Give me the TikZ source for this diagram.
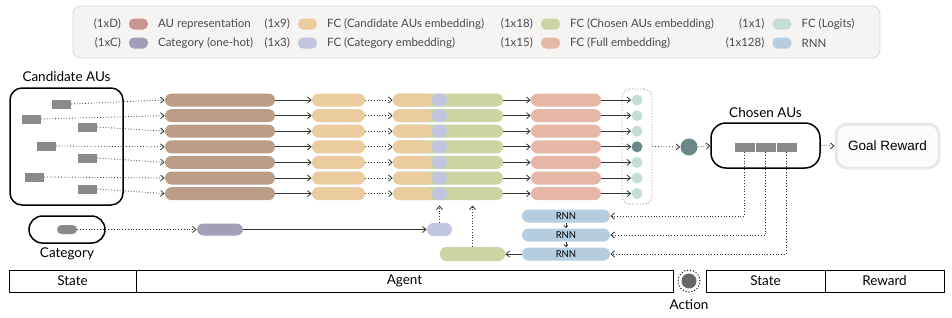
\documentclass[tikz,border=0pt]{standalone}
\usepackage{fontspec}
\setmainfont{Lato}
\newfontfamily\arialfont{Liberation Sans}
\usetikzlibrary{arrows.meta, positioning, calc}
\definecolor{aubrown}{HTML}{BC9D87}
\definecolor{aulegend}{HTML}{C8968E}
\definecolor{onehot}{HTML}{A39DB5}
\definecolor{fcyel}{HTML}{EACC9F}
\definecolor{catemb}{HTML}{C2C5DF}
\definecolor{chgreen}{HTML}{CBD5A4}
\definecolor{fullpink}{HTML}{E6B6A6}
\definecolor{logit}{HTML}{C6DDD6}
\definecolor{rnnblue}{HTML}{B5CDE0}
\definecolor{actteal}{HTML}{6A8888}
\definecolor{augray}{HTML}{8A8A8A}
\definecolor{actgray}{HTML}{666666}
\definecolor{legbg}{HTML}{F6F4F2}
\definecolor{legborder}{HTML}{DADADA}
\definecolor{legtext}{HTML}{4A4A4A}
\definecolor{arrowdk}{HTML}{333333}

\begin{document}
\begin{tikzpicture}[x=1pt, y=-1pt, >={Straight Barb[length=3.5pt, width=6pt]}, line width=0.8pt,
  pill/.style={rounded corners=6.5pt, minimum height=13pt, inner sep=0pt},
  aurect/.style={fill=augray, draw=white, line width=0.4pt, minimum width=20pt, minimum height=10pt, inner sep=0pt},
  lsw/.style={fill=#1, rounded corners=5pt, minimum width=19pt, minimum height=11pt, inner sep=0pt},
  ltxt/.style={text=legtext, font=\fontsize{11.5}{13}\selectfont},
  lbl/.style={font=\fontsize{13.5}{15}\selectfont},
  cell/.style={draw, line width=1pt, minimum height=22pt, inner sep=0pt, font=\fontsize{13.5}{15}\selectfont},
  conn/.style={draw=arrowdk, ->},
  dconn/.style={draw=arrowdk, ->, dotted}]

\useasboundingbox (0,0) rectangle (952,317);

% --- Legend ---
\node[fill=legbg, draw=legborder, rounded corners=8pt, minimum width=807pt, minimum height=52pt] (legend) at (476.5,32) {};
\foreach \sz/\col/\txt/\lx/\ly [count=\k] in {
  {(1xD)}/aulegend/{AU representation}/138.5/24,
  {(1xC)}/onehot/{Category (one-hot)}/138.5/43,
  {(1x9)}/fcyel/{FC (Candidate AUs embedding)}/307.5/24,
  {(1x3)}/catemb/{FC (Category embedding)}/307.5/43,
  {(1x18)}/chgreen/{FC (Chosen AUs embedding)}/550.5/24,
  {(1x15)}/fullpink/{FC (Full embedding)}/550.5/43,
  {(1x1)}/logit/{FC (Logits)}/782/24,
  {(1x128)}/rnnblue/{RNN}/782/43} {
  \node[lsw=\col] (sw\k) at (\lx,\ly) {};
  \node[ltxt, left=4pt of sw\k] (sz\k) {\sz};
  \node[ltxt, right=6pt of sw\k] (lt\k) {\txt};
}

% --- Candidate AUs (state) ---
\node[draw, line width=1.5pt, rounded corners=12pt, minimum width=113pt, minimum height=117pt] (cand) at (66.5,146.5) {};
\node[lbl, above=2pt of cand] (candlbl) {Candidate AUs};

% --- Seven rows of the agent ---
\foreach \i/\cx/\cy in {1/61/104, 2/31/119, 3/87/127, 4/46/146, 5/87/158, 6/34/177, 7/87/189} {
  \pgfmathsetmacro\ry{100+15.6*(\i-1)}
  \def\lc{logit}
  \ifnum\i=4 \def\lc{actteal}\fi
  \node[aurect] (cu\i) at (\cx,\cy) {};
  \node[pill, fill=aubrown, minimum width=110pt] (au\i) at (220,\ry) {};
  \node[pill, fill=fcyel, minimum width=53pt] (fc\i) at (338.5,\ry) {};
  \node[pill, fill=chgreen, minimum width=110pt,
    path picture={
      \fill[fcyel] (path picture bounding box.north west) rectangle ([xshift=39pt]path picture bounding box.south west);
      \fill[catemb] ([xshift=39pt]path picture bounding box.north west) rectangle ([xshift=54pt]path picture bounding box.south west);
    }] (cc\i) at (448,\ry) {};
  \node[pill, fill=fullpink, minimum width=70pt] (fe\i) at (566,\ry) {};
  \node[circle, fill=\lc, minimum size=11pt, inner sep=0pt] (lg\i) at (637,\ry) {};
  \draw[dconn] (cu\i.east) -- (au\i.west);
  \draw[conn] (au\i.east) -- (fc\i.west);
  \draw[dconn] (fc\i.east) -- (cc\i.west);
  \draw[conn] (cc\i.east) -- (fe\i.west);
  \draw[conn] (fe\i.east) -- (lg\i.west);
}

% Logits box and chosen action
\node[draw=gray, dotted, rounded corners=8pt, minimum width=30pt, minimum height=115pt] (lbox) at (637,146.5) {};
\node[circle, fill=actteal, minimum size=17pt, inner sep=0pt] (act) at (689,147) {};
\draw[dconn] (lbox.east) -- (act.west);

% --- Chosen AUs and reward ---
\node[draw, line width=1.5pt, rounded corners=15pt, minimum width=109pt, minimum height=45pt] (chosen) at (765.5,145.5) {};
\node[lbl, above=1pt of chosen] (chosenlbl) {Chosen AUs};
\node[aurect, minimum width=21pt] (ch1) at (744.5,147) {};
\node[aurect, minimum width=21pt] (ch2) at (765.5,147) {};
\node[aurect, minimum width=21pt] (ch3) at (786.5,147) {};
\node[draw=gray!18, fill=gray!3, line width=3pt, rounded corners=11pt, minimum width=103pt, minimum height=44pt,
  font=\arialfont\fontsize{13.5}{15}\selectfont] (goal) at (887.5,146) {Goal Reward};
\draw[dconn] (act.east) -- (chosen.west);
\draw[dconn] (chosen.east) -- (goal.west);

% --- Category input ---
\node[draw, line width=1.5pt, rounded corners=13.5pt, minimum width=76pt, minimum height=27pt] (catbox) at (67,229.5) {};
\node[lbl, below=0pt of catbox] (catlbl) {Category};
\node[fill=augray, rounded corners=4.5pt, minimum width=20pt, minimum height=9pt, inner sep=0pt] (cgray) at (67,229.5) {};
\node[pill, fill=onehot, minimum width=46pt, minimum height=12pt] (ohot) at (220,229.5) {};
\node[pill, fill=catemb, minimum width=25pt] (cemb) at (439.5,229.5) {};
\draw[dconn] (cgray.east) -- (ohot.west);
\draw[conn] (ohot.east) -- (cemb.west);
\draw[dconn] (cemb.north) -- ([yshift=-5pt]cc7.south -| cemb.north);

% --- RNN over chosen AUs ---
\foreach \j/\ry in {1/216, 2/235, 3/254} {
  \node[pill, fill=rnnblue, minimum width=88pt, font=\fontsize{9.5}{10}\selectfont] (rnn\j) at (566,\ry) {RNN};
  \draw[dconn] (ch\j.south) |- (rnn\j.east);
}
\draw[conn, >={Straight Barb[length=2pt, width=4pt]}] (rnn1.south) -- (rnn2.north);
\draw[conn, >={Straight Barb[length=2pt, width=4pt]}] (rnn2.south) -- (rnn3.north);
\node[pill, fill=chgreen, minimum width=65pt, minimum height=14pt] (gb) at (472.5,254) {};
\draw[conn] (rnn3.west) -- (gb.east);
\draw[dconn] (gb.north) -- ([yshift=-5pt]cc7.south -| gb.north);

% --- Bottom strip ---
\node[cell, minimum width=127pt] (st1) at (72.5,281) {State};
\node[cell, minimum width=537pt] (agent) at (404.5,281) {Agent};
\node[cell, minimum width=119pt] (st2) at (765.5,281) {State};
\node[cell, minimum width=119pt] (rew) at (884.5,281) {Reward};
\node[circle, draw, dotted, line width=1pt, minimum size=22pt] (actring) at (689,281) {};
\node[circle, fill=actgray, minimum size=15pt, inner sep=0pt] (actdot) at (689,281) {};
\node[lbl, below=3pt of actring] (actlbl) {Action};

\end{tikzpicture}
\end{document}
